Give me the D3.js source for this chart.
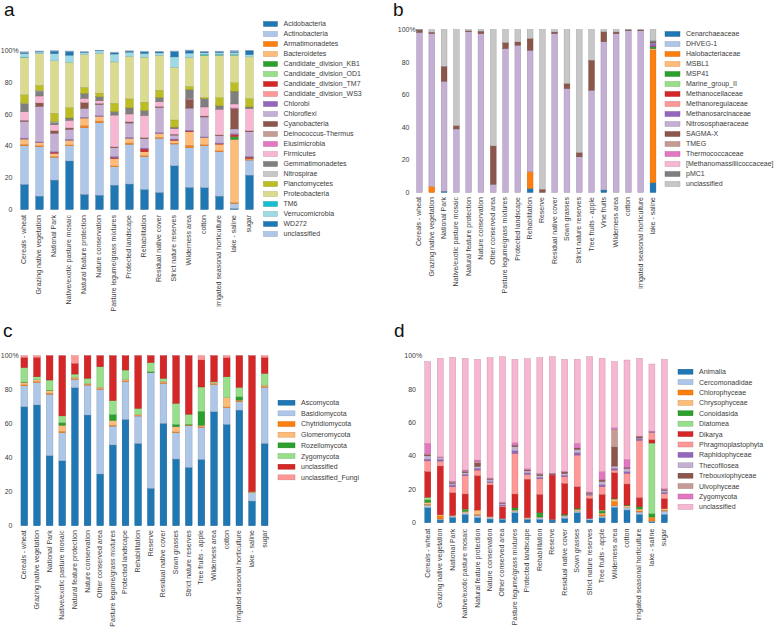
<!DOCTYPE html>
<html><head><meta charset="utf-8">
<script src="https://cdn.jsdelivr.net/npm/d3@7"></script>
<style>
body{margin:0;background:#fff}
text{font-family:"Liberation Sans",Arial,sans-serif}
</style>
</head><body>
<svg id="chart" width="778" height="639"></svg>
<script>
const palette = ["#1f77b4","#aec7e8","#ff7f0e","#ffbb78","#2ca02c","#98df8a","#d62728","#ff9896","#9467bd","#c5b0d5","#8c564b","#c49c94","#e377c2","#f7b6d2","#7f7f7f","#c7c7c7","#bcbd22","#dbdb8d","#17becf","#9edae5"];
const yTicks = [0, 20, 40, 60, 80, 100];

// ---------- panel a: bacteria ----------
const catsA = ["Cereals - wheat","Grazing native vegetation","National Park","Native/exotic pasture mosaic","Natural feature protection","Nature conservation","Pasture legume/grass mixtures","Protected landscape","Rehabilitation","Residual native cover","Strict nature reserves","Wilderness area","cotton","irrigated seasonal horticulture","lake - saline","sugar"];
const seriesA = ["Acidobacteria","Actinobacteria","Armatimonadetes","Bacteroidetes","Candidate_division_KB1","Candidate_division_OD1","Candidate_division_TM7","Candidate_division_WS3","Chlorobi","Chloroflexi","Cyanobacteria","Deinococcus-Thermus","Elusimicrobia","Firmicutes","Gemmatimonadetes","Nitrospirae","Planctomycetes","Proteobacteria","TM6","Verrucomicrobia","WD272","unclassified"];
const valuesA = [
 [15.8,24.3,0.8,3.4,0,0,0,0,0.6,10.5,0.7,0,0,5.5,4.8,0.5,5.2,23.5,0.2,2.4,0.6,0.4],
 [8.4,31.1,0.6,2,0,0,0,0,0.5,22.3,2.1,0,0,4.4,3,0.5,3.2,19.9,0,1.1,0.3,0.3],
 [18.5,14.3,0.5,2,0,0,0.7,0,0.5,11.5,1.5,0,0,3.8,1.5,0.5,5.2,33,0,4.6,1.5,0.3],
 [30.5,9.6,0.5,3,0,0,0,0,0.6,6.3,0.8,0,0,4.8,1.5,0,6.5,28.4,0,4.6,2.3,0.3],
 [9.5,42,1.2,4.8,0,0,0,0,0.5,5.7,3.6,0,0,2.7,3,0,3.8,20.7,0,1.2,0.3,0.3],
 [9,45.6,1,3,0,0,0,0,0.5,7,0.6,0,0,1.7,2.5,0,2.3,24.8,0,1.8,0.2,0.2],
 [15.3,11.6,0.5,4.6,0,0,0.6,0,0.8,5.5,0.5,0,0,20,2.2,0,5.2,26,0,5,0.7,0.5],
 [16,25,0.8,3,0,0,0,0,0.6,9,0.7,0,0,5,3.8,0,5.7,26.6,0,2.8,0.6,0.2],
 [12.6,20.6,0.6,2.5,0,0,1.7,0,0.6,6,0.6,0,0,14,3,0,5.3,28.3,0,2.5,0.8,0.5],
 [10.7,34,0.6,2.5,0,0,0,0,0.6,15.8,0.6,0,0,3,2.6,0,4.6,22,0,1.5,0.6,0.3],
 [27.5,13.7,0.5,1.7,0,0,0.4,0,0.5,2.5,0.5,0,0,3.5,1,0,4.5,33.1,0,6.6,3.4,0.3],
 [13.9,25,1.5,8.5,0,0,0.5,0,0.4,14,5.6,0,0,0.5,5.5,0,2,18,0,3,1.6,0.3],
 [13.7,26.4,0.6,4.5,0,0,0,0,0.5,12.5,0.6,0,0,5.7,5.2,0,0.8,26.5,0.6,1,0.5,0.3],
 [8.4,27.9,0.6,4.2,0,0,0.3,0,0.4,4.6,0.5,0,0,16.2,2.1,0,5.2,26.7,0.5,1.2,0.5,0.3],
 [0.6,3.2,0.5,39.8,1.5,0.3,1,0.3,0.5,3,12.6,0.3,0.3,2.5,8,0,5.3,17.4,0.3,1.5,0.5,0.6],
 [21.6,9.5,0.4,0.6,0,0,0.8,0,0.5,15.5,0.6,0,0,14,1,0,5.3,26.2,0,1.5,2.3,0.2]
];

// ---------- panel b: archaea ----------
const catsB = ["Cereals - wheat","Grazing native vegetation","National Park","Native/exotic pasture mosaic","Natural feature protection","Nature conservation","Other conserved area","Pasture legume/grass mixtures","Protected landscape","Rehabilitation","Reserve","Residual native cover","Sown grasses","Strict nature reserves","Tree fruits - apple","Vine fruits","Wilderness area","cotton","irrigated seasonal horticulture","lake - saline"];
const seriesB = ["Cenarchaeaceae","DHVEG-1","Halobacteriaceae","MSBL1","MSP41","Marine_group_II","Methanocellaceae","Methanoregulaceae","Methanosarcinaceae","Nitrososphaeraceae","SAGMA-X","TMEG","Thermococcaceae","[Methanomassiliicoccaceae]","pMC1","unclassified"];
const valuesB = [
 [0,0,0,0,0,0,0,0,0,98.2,1.3,0,0,0,0.5,0],
 [0,0,3.5,0.3,0,0,0,0,0,93.7,0.9,0,0,0,0,1.6],
 [0.8,0,0,0,0,0,0,0,0,67.5,8.8,0,0,0,0.3,22.6],
 [0,0,0,0,0,0,0,0,0,39,2,0,0,0,0,59],
 [0,0,0,0,0,0,0,0,0,98.6,0.6,0,0,0,0,0.8],
 [0,0,0,0,0,0,0,0,0,97.5,1.5,0,0,0,0,1],
 [0,0,0,0,0,0,0,0,0,5.1,23.5,0,0,0,0,71.4],
 [0,0,0,0,0,0,0,0,0,88.3,3.7,0,0,0,0,8],
 [0,0,0,0,0,0,0,0,0,90.4,2,0,0,0,0,7.6],
 [2.4,0,10.3,0,0,0,0,0,0,74.6,7.2,0,0,0,0,5.5],
 [0,0,0,0,0,0,0,0,0,0.2,1.8,0,0,0,0,98],
 [0,0,0,0,0,0,0,0,0,97.5,1,0,0,0,0,1.5],
 [0,0,0,0,0,0,0,0,0,63.8,3.1,0,0,0,0,33.1],
 [0,0,0,0,0,0,0,0,0,21.9,2.6,0,0,0,0,75.5],
 [0,0,0,0,0,0,0,0,0,62.8,18.4,0,0,0,0,18.8],
 [1.6,0,0,0,0,0,0,0,0,90.9,6.1,0,0,0,0,1.4],
 [0,0,0,0,0,0,0,0,0,97.5,1,0,0,0,0,1.5],
 [0,0,0,0,0,0,0,0,0,99.3,0.5,0,0,0,0,0.2],
 [0,0,0,0,0,0,0,0,0,99.2,0.5,0,0,0,0,0.3],
 [6,0,81.4,0.8,1.2,0,0.3,0,1.5,0.5,0.5,0,0,0,1,6.8]
];

// ---------- panel c: fungi ----------
const catsC = ["Cereals - wheat","Grazing native vegetation","National Park","Native/exotic pasture mosaic","Natural feature protection","Nature conservation","Other conserved area","Pasture legume/grass mixtures","Protected landscape","Rehabilitation","Reserve","Residual native cover","Sown grasses","Strict nature reserves","Tree fruits - apple","Wilderness area","cotton","irrigated seasonal horticulture","lake - saline","sugar"];
const seriesC = ["Ascomycota","Basidiomycota","Chytridiomycota","Glomeromycota","Rozellomycota","Zygomycota","unclassified","unclassified_Fungi"];
const valuesC = [
 [70,12.3,0.6,1.4,0.2,8.5,6,1],
 [71,13.3,0.5,1,0,1.8,11.4,1],
 [41.2,36.1,0.6,1.5,0.3,6,14.3,0],
 [38.2,16.5,0.8,3.6,1.5,4,35.4,0],
 [81.2,4.9,0.5,0.8,0,1.8,6.3,4.5],
 [65.1,17.6,0.5,0.5,0,3,13.3,0],
 [30.4,49.8,0.5,0.8,0,12,6.5,0],
 [47.5,11.1,0.5,2.8,3.5,8.2,26.4,0],
 [62.5,22.2,0.5,0.8,0,5.6,8.4,0],
 [48.4,16.1,0.4,0.6,0,3.5,31,0],
 [22,68,0,0,0.6,5.4,4,0],
 [60.2,23.5,0.5,0.8,0,1.7,13.3,0],
 [39.2,15.5,0.5,3,1.4,12.4,28,0],
 [34.3,24.5,0.4,0,0.4,6,34.4,0],
 [39,18.8,0.5,0.8,8.2,14.3,15.9,2.5],
 [67,16.1,0.5,0.6,0,0.5,15.3,0],
 [59.6,9.8,0.4,5.5,0,12.3,11.2,1.2],
 [68,4.9,0.5,0.5,2,5.5,18.6,0],
 [14.5,4.9,0.2,0.3,0,0.3,79.8,0],
 [48.4,33,0.5,0.8,0,6.9,9.4,1]
];

// ---------- panel d: eukaryotes ----------
const catsD = catsC.slice();
const seriesD = ["Animalia","Cercomonadidae","Chlorophyceae","Chrysophyceae","Conoidasida","Diatomea","Dikarya","Phragmoplastophyta","Raphidophyceae","Thecofilosea","Trebouxiophyceae","Ulvophyceae","Zygomycota","unclassified"];
const valuesD = [
 [9,1.6,0.5,1.2,1.4,1.6,15.4,6.4,1,2,0.6,0.5,6.4,49],
 [1.6,0.6,2,0.6,0,0,29.2,3,1,1,0,0,0.5,59.1],
 [3.2,0.8,0,0.5,0,0,13.5,3.6,1,1,0.5,0.3,0.5,74.3],
 [5,1,0,0.8,1.2,0.2,9,11,0.8,1,0.5,0.5,0.6,67],
 [3,1.5,0.5,2.6,0,0,20.6,3.4,1,1.2,2,0.8,1,60.4],
 [2.2,1,0,0.5,0,0,19,1.4,0.6,1,0.3,0.3,0.5,72.2],
 [2,0.5,0,0,0,0,7,0.6,0.5,1,0.2,0,0.5,87.3],
 [6,1,0,0.6,1.4,0,8.2,24.4,1.6,2.4,0.8,0.2,1.4,50],
 [2,0.5,0,0.6,0,0,23,3,0.8,1.2,0.5,0,0.8,66],
 [2,1,0,0.4,2.6,0,11,9.4,0.8,1,0.8,0.2,0.4,69.4],
 [1.6,0.4,0,0,0,0,26.6,0.3,0.3,0,0.4,0,0,70],
 [2.6,1.4,0,0.5,0.6,0,18.5,4,0.8,1.2,0.8,0,0.4,67.2],
 [6,1,0,1,0.6,0,13,19,1.4,2,0.8,0,2.8,50.4],
 [1.6,1,0,0,0,0,12,2,0.5,0.5,0.3,0,0.5,81.2],
 [3,1,0.8,1,1.2,0.6,9.4,4.6,1.2,2,0.8,0.4,4.6,68],
 [9.2,1,2.6,1.4,0.4,0,15.4,1.6,1,1.4,11.4,10.6,1,39.6],
 [7.6,1.6,0,1,0.4,0,12.6,6.4,1,2,0.6,0,4.8,59.6],
 [5,1.4,0.6,1.2,1.4,0,5.4,34.4,0.8,0.6,0.8,0,0.4,46.6],
 [0.6,0.4,2,0.4,2,42.4,2,4.4,0.2,0.2,0,0,0.4,40.2],
 [5,2,0.5,1,0,0,6,3,0.8,1,0.5,0,0.7,77.5]
];

const svg = d3.select("#chart");
const TXT = "#3c3c3c";

function panel(cfg) {
  const g = svg.append("g");
  const n = cfg.cats.length;
  const pi = 1 - cfg.bw / cfg.step;
  const r0 = cfg.firstCenter - cfg.bw / 2 - 0.5 * cfg.step;
  const r1 = r0 + cfg.step * (n - pi + 1);
  const x = d3.scaleBand().domain(cfg.cats).range([r0, r1]).paddingInner(pi).paddingOuter(0.5);
  const y = d3.scaleLinear().domain([0, 100]).range([cfg.y0, cfg.y100]);
  const color = d3.scaleOrdinal().domain(cfg.series).range(palette);

  const rows = cfg.cats.map((c, i) => {
    const o = { cat: c };
    cfg.series.forEach((s, j) => o[s] = cfg.values[i][j]);
    return o;
  });
  const stacked = d3.stack().keys(cfg.series)(rows);

  g.selectAll("g.layer").data(stacked).join("g")
    .attr("fill", d => color(d.key))
    .attr("stroke", d => d3.color(color(d.key)).darker(0.7))
    .attr("stroke-width", 0.4)
    .selectAll("rect").data(d => d.filter(e => e[1] - e[0] > 0)).join("rect")
    .attr("x", d => x(d.data.cat))
    .attr("width", x.bandwidth())
    .attr("y", d => y(d[1]))
    .attr("height", d => Math.max(0, y(d[0]) - y(d[1])));

  // y tick labels
  yTicks.forEach(t => {
    g.append("text").attr("x", cfg.tickX).attr("y", y(t)).attr("dy", "0.35em")
      .attr("text-anchor", "end").attr("font-size", 7).attr("fill", TXT).text(t);
    if (t === 100) {
      g.append("text").attr("x", cfg.tickX).attr("y", y(t)).attr("dy", "0.35em")
        .attr("font-size", 7).attr("fill", TXT).text("%");
    }
  });

  // category labels
  cfg.cats.forEach(c => {
    const cx = x(c) + x.bandwidth() / 2 - 0.5;
    const ty = cfg.y0 + cfg.labelGap;
    g.append("text").attr("transform", `translate(${cx},${ty}) rotate(-90)`)
      .attr("text-anchor", "end").attr("dy", "0.35em")
      .attr("font-size", 7).attr("fill", TXT).text(c);
  });

  // legend
  cfg.series.forEach((s, j) => {
    const ly = cfg.legY + j * cfg.legStep;
    g.append("rect").attr("x", cfg.legX).attr("y", ly - 2.5).attr("width", cfg.swW).attr("height", 5)
      .attr("fill", color(s)).attr("stroke", d3.color(color(s)).darker(0.7)).attr("stroke-width", 0.4);
    g.append("text").attr("x", cfg.legX + cfg.swW + 6).attr("y", ly).attr("dy", "0.35em")
      .attr("font-size", 7).attr("fill", TXT).text(s);
  });

  // panel letter
  g.append("text").attr("x", cfg.lx).attr("y", cfg.ly).attr("font-size", 19).attr("fill", "#111").text(cfg.letter);
}

panel({letter: "a", lx: 4, ly: 16, cats: catsA, series: seriesA, values: valuesA,
  firstCenter: 24.5, step: 15, bw: 7.5, y0: 209.5, y100: 50.5, tickX: 12.5, labelGap: 5.5,
  legX: 263.5, legY: 24, legStep: 10, swW: 14});
panel({letter: "b", lx: 393, ly: 16, cats: catsB, series: seriesB, values: valuesB,
  firstCenter: 419.5, step: 12.29, bw: 5.8, y0: 192.5, y100: 29.5, tickX: 409.5, labelGap: 4.5,
  legX: 665, legY: 34, legStep: 10, swW: 15});
panel({letter: "c", lx: 3, ly: 337, cats: catsC, series: seriesC, values: valuesC,
  firstCenter: 24.3, step: 12.65, bw: 6.7, y0: 525.7, y100: 355.7, tickX: 12.5, labelGap: 4.5,
  legX: 278, legY: 402.7, legStep: 10.67, swW: 17});
panel({letter: "d", lx: 394, ly: 337, cats: catsD, series: seriesD, values: valuesD,
  firstCenter: 427.8, step: 12.45, bw: 6, y0: 522.7, y100: 356, tickX: 416, labelGap: 6,
  legX: 678, legY: 371.7, legStep: 10.4, swW: 15});
</script>
</body></html>
